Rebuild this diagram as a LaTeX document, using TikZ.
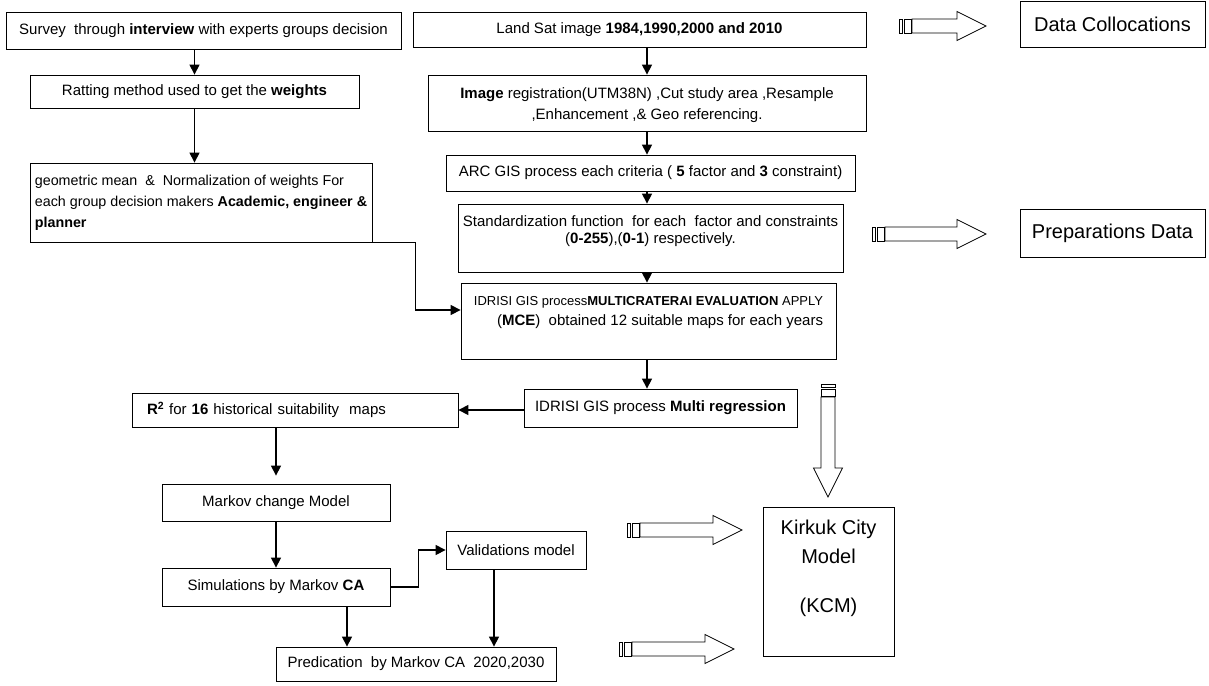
\documentclass[tikz,border=0pt]{standalone}
\usepackage{fontspec}
\setmainfont{Liberation Sans}
\usetikzlibrary{arrows.meta}

\tikzset{
    box/.style={draw, line width=0.8pt, inner sep=0pt, align=center, font=\fontsize{15}{21}\selectfont},
    bigbox/.style={box, font=\fontsize{20}{24}\selectfont},
    arr/.style={-{Triangle[length=10pt,width=10pt]}, line width=1.2pt},
    blockline/.style={line width=0.8pt},
    pics/stripedarrow/.style={code={
        \draw[blockline] (0,-7) rectangle (3,7);
        \draw[blockline] (5,-7) rectangle (12,7);
        \draw[blockline] (13,-7) -- (#1-29,-7) -- (#1-29,-14.5) -- (#1,0) -- (#1-29,14.5) -- (#1-29,7) -- (13,7) -- cycle;
    }}
}

\begin{document}
\begin{tikzpicture}[x=1pt,y=-1pt] % one unit is one pixel of the page, y downwards
        \useasboundingbox (0,0) rectangle (1209,685);

        \node[box, minimum width=395pt, minimum height=37pt] (survey) at (203.5,30.5) {Survey \ through \textbf{interview} with experts groups decision};
        \node[box, minimum width=329pt, minimum height=33pt] (rating) at (194.5,91.5) {Ratting method used to get the \textbf{weights}};
        \node[box, minimum width=342pt, minimum height=79pt, align=left, font=\fontsize{14.3}{21}\selectfont] (mean) at (201,202.5) {geometric mean \ \& \ Normalization of weights For\\ each group decision makers \textbf{Academic, engineer \&}\\ \textbf{planner}};

        \node[box, minimum width=453pt, minimum height=35pt] (landsat) at (639.5,29.5) {Land Sat image \textbf{1984,1990,2000 and 2010}};
        \node[box, minimum width=438pt, minimum height=56pt] (regist) at (647,103) {\mbox{}\\[-5pt]\textbf{Image} registration(UTM38N) ,Cut study area ,Resample\\ ,Enhancement ,\& Geo referencing.};
        \node[box, minimum width=409pt, minimum height=36pt] (arc) at (650.5,173) {ARC GIS process each criteria ( \textbf{5} factor and \textbf{3} constraint)};
        \node[box, minimum width=385pt, minimum height=68pt, font=\fontsize{15}{17}\selectfont] (stand) at (650.5,238) {Standardization function \ for each \ factor and constraints\\ (\textbf{0-255}),(\textbf{0-1}) respectively.\\ \mbox{}};
        \node[box, minimum width=375pt, minimum height=76pt, align=right, font=\fontsize{15}{20}\selectfont] (mce) at (648.5,321) {{\fontsize{13}{20}\selectfont IDRISI GIS process\textbf{MULTICRATERAI EVALUATION} APPLY}\\ (\textbf{MCE}) \ obtained 12 suitable maps for each years\\ \mbox{}};
        \node[box, minimum width=273pt, minimum height=38pt] (regress) at (660.5,408) {IDRISI GIS process \textbf{Multi regression}};

        \node[box, minimum width=326pt, minimum height=34pt, text width=296pt, inner xsep=15pt, align=left] (rsq) at (295,410) {\textbf{R\textsuperscript{2}} for \textbf{16} historical suitability \ maps};
        \node[box, minimum width=228pt, minimum height=37pt] (markov) at (276,502.5) {Markov change Model};
        \node[box, minimum width=228pt, minimum height=38pt] (simul) at (276,587) {Simulations by Markov \textbf{CA}};
        \node[box, minimum width=140pt, minimum height=38pt] (valid) at (516,550) {Validations model};
        \node[box, minimum width=280pt, minimum height=34pt] (predic) at (416,664) {Predication \ by Markov CA \ 2020,2030};

        \node[bigbox, minimum width=185pt, minimum height=46pt] (collect) at (1112.5,24) {Data Collocations};
        \node[bigbox, minimum width=185pt, minimum height=48pt] (prepar) at (1112.5,233) {Preparations Data};
        \node[bigbox, minimum width=131pt, minimum height=149pt, font=\fontsize{20}{29}\selectfont] (kcm) at (828.5,581.5) {Kirkuk City\\Model\\[20pt](KCM)\\[2pt]\mbox{}};

        \coordinate (spine) at (647,0);
        \draw[arr] (survey.south -| rating.north) -- (rating.north);
        \draw[arr] (rating.south) -- (rating.south |- mean.north);
        \draw[arr] (mean.south east) -- ++(43,0) |- ([yshift=11pt]mce.west);
        \draw[arr] (landsat.south -| regist.north) -- (regist.north);
        \draw[arr] (regist.south -| spine) -- (arc.north -| spine);
        \draw[arr] (arc.south -| spine) -- (stand.north -| spine);
        \draw[arr] (stand.south -| spine) -- (mce.north -| spine);
        \draw[arr] (mce.south -| spine) -- (regress.north -| spine);
        \draw[arr] (regress.west |- rsq.east) -- (rsq.east);
        \draw[arr, shorten >=8pt] (rsq.south -| markov.north) -- (markov.north);
        \draw[arr] (markov.south) -- (simul.north);
        \draw[arr] (simul.east) -- ++(28,0) |- (valid.west);
        \draw[arr] ([xshift=71pt]simul.south) -- ([xshift=71pt]simul.south |- predic.north);
        \draw[arr] ([xshift=-22pt]valid.south) -- ([xshift=-22pt]valid.south |- predic.north);

        \pic at (899,26) {stripedarrow=87};
        \pic at (872,234) {stripedarrow=114};
        \pic at (627,530) {stripedarrow=115};
        \pic at (619,649) {stripedarrow=115};
        \pic[rotate=-90] at (828,384) {stripedarrow=113};
    \end{tikzpicture}
\end{document}
